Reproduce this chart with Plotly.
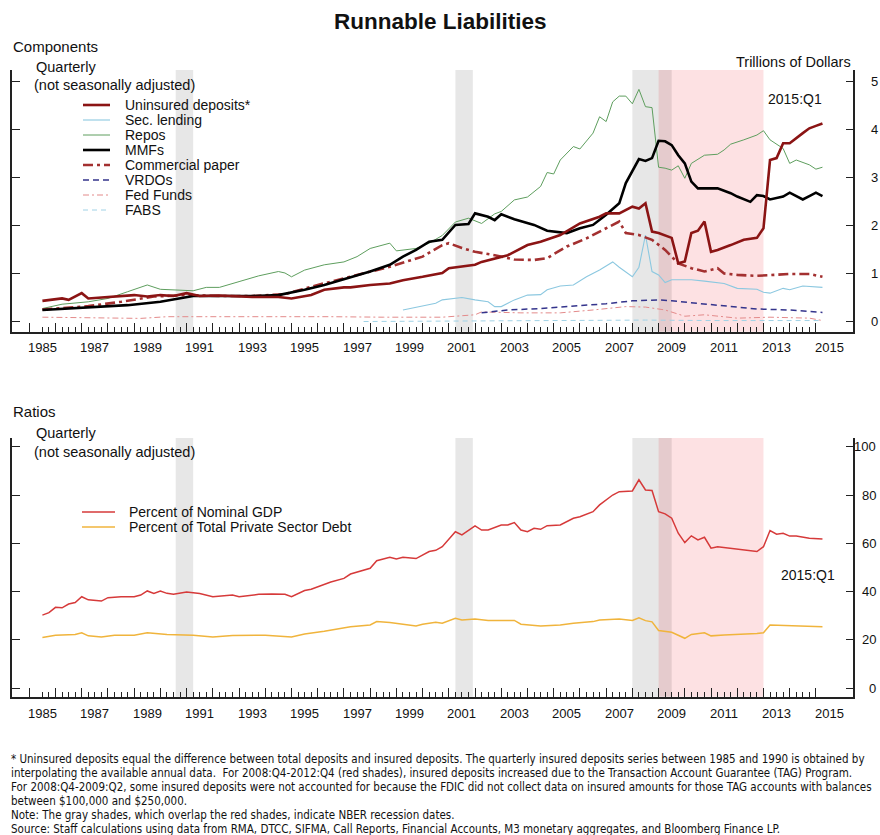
import plotly.graph_objects as go

W, H = 880, 835


def qtime(label):
    """Quarter label such as '2008Q4' -> decimal year at the end of that quarter."""
    year, q = label.split("Q")
    return int(year) + int(q) / 4.0


def mtime(label):
    """Month label such as '2007-12' -> decimal year at the end of that month."""
    year, m = label.split("-")
    return int(year) + int(m) / 12.0


# ---------------- Components, trillions of dollars ----------------
ud_q = ["1985Q2", "1986Q1", "1986Q2", "1986Q4", "1987Q1", "1987Q4", "1988Q2", "1988Q4", "1989Q2", "1989Q4",
        "1990Q2", "1990Q4", "1991Q2", "1992Q1", "1993Q2", "1994Q2", "1994Q4", "1995Q3", "1996Q1", "1996Q4",
        "1997Q1", "1997Q4", "1998Q3", "1999Q1", "1999Q4", "2000Q2", "2000Q3", "2000Q4", "2001Q2", "2001Q4",
        "2002Q1", "2003Q1", "2003Q4", "2004Q2", "2005Q1", "2005Q4", "2006Q3", "2006Q4", "2007Q2", "2007Q4",
        "2008Q1", "2008Q2", "2008Q3", "2008Q4", "2009Q2", "2009Q3", "2009Q4", "2010Q1", "2010Q2", "2010Q3",
        "2010Q4", "2011Q1", "2011Q3", "2012Q1", "2012Q3", "2012Q4", "2013Q1", "2013Q2", "2013Q3", "2013Q4",
        "2014Q2", "2014Q3", "2014Q4", "2015Q1"]
uninsured_deposits = [0.44, 0.49, 0.46, 0.60, 0.49, 0.52, 0.54, 0.56, 0.53, 0.56,
                      0.54, 0.60, 0.54, 0.55, 0.52, 0.52, 0.49, 0.56, 0.67, 0.72,
                      0.72, 0.77, 0.80, 0.87, 0.94, 0.99, 1.02, 1.12, 1.15, 1.19,
                      1.25, 1.39, 1.60, 1.67, 1.81, 2.05, 2.19, 2.26, 2.26, 2.40,
                      2.36, 2.47, 1.88, 1.85, 1.75, 1.22, 1.26, 1.85, 1.90, 2.09,
                      1.46, 1.50, 1.60, 1.71, 1.75, 1.95, 3.37, 3.41, 3.72, 3.72,
                      3.93, 4.03, 4.08, 4.13]

mmf_q = ["1985Q2", "1986Q2", "1987Q3", "1988Q3", "1989Q4", "1990Q3", "1991Q1", "1992Q1", "1993Q2", "1994Q2",
         "1995Q2", "1996Q1", "1996Q4", "1997Q4", "1998Q3", "1999Q1", "1999Q3", "2000Q1", "2000Q3", "2001Q1",
         "2001Q3", "2001Q4", "2002Q2", "2002Q3", "2002Q4", "2003Q2", "2004Q1", "2004Q3", "2005Q2", "2005Q4",
         "2006Q2", "2006Q4", "2007Q2", "2007Q3", "2008Q1", "2008Q2", "2008Q3", "2008Q4", "2009Q1", "2009Q2",
         "2009Q3", "2009Q4", "2010Q1", "2010Q2", "2011Q1", "2011Q3", "2011Q4", "2012Q2", "2012Q3", "2012Q4",
         "2013Q1", "2013Q3", "2013Q4", "2014Q2", "2014Q3", "2014Q4", "2015Q1"]
mmfs = [0.25, 0.28, 0.32, 0.35, 0.42, 0.49, 0.54, 0.54, 0.54, 0.56,
        0.67, 0.77, 0.89, 1.05, 1.19, 1.36, 1.50, 1.67, 1.71, 2.02,
        2.04, 2.26, 2.19, 2.12, 2.24, 2.14, 2.02, 1.90, 1.85, 1.95,
        2.02, 2.23, 2.47, 2.89, 3.39, 3.35, 3.41, 3.77, 3.76, 3.68,
        3.47, 3.30, 2.92, 2.78, 2.78, 2.68, 2.61, 2.50, 2.64, 2.62,
        2.55, 2.61, 2.69, 2.55, 2.62, 2.69, 2.62]

repo_q = ["1985Q2", "1986Q1", "1987Q1", "1987Q4", "1988Q3", "1989Q2", "1989Q4", "1990Q3", "1991Q1", "1991Q3",
          "1992Q1", "1992Q4", "1993Q3", "1994Q2", "1994Q3", "1994Q4", "1995Q2", "1996Q1", "1996Q4", "1997Q2",
          "1997Q4", "1998Q3", "1998Q4", "1999Q3", "2000Q1", "2000Q3", "2001Q1", "2001Q3", "2002Q1", "2002Q3",
          "2002Q4", "2003Q2", "2003Q4", "2004Q2", "2004Q3", "2004Q4", "2005Q1", "2005Q3", "2005Q4", "2006Q2",
          "2006Q3", "2006Q4", "2007Q1", "2007Q2", "2007Q3", "2007Q4", "2008Q1", "2008Q2", "2008Q3", "2008Q4",
          "2009Q1", "2009Q2", "2009Q3", "2009Q4", "2010Q1", "2010Q3", "2011Q1", "2011Q2", "2011Q3", "2012Q1",
          "2012Q3", "2012Q4", "2013Q1", "2013Q3", "2013Q4", "2014Q1", "2014Q3", "2014Q4", "2015Q1"]
repos = [0.28, 0.37, 0.42, 0.49, 0.63, 0.77, 0.68, 0.67, 0.65, 0.72,
         0.72, 0.84, 0.96, 1.05, 1.02, 0.94, 1.08, 1.19, 1.25, 1.36,
         1.53, 1.64, 1.48, 1.53, 1.64, 1.80, 2.08, 2.16, 2.05, 2.25,
         2.30, 2.54, 2.60, 2.82, 3.11, 3.08, 3.37, 3.65, 3.60, 3.93,
         4.27, 4.17, 4.58, 4.70, 4.70, 4.54, 4.84, 4.48, 4.46, 3.22,
         3.20, 3.16, 3.25, 2.99, 3.30, 3.47, 3.49, 3.58, 3.70, 3.79,
         3.89, 3.98, 3.79, 3.61, 3.30, 3.37, 3.27, 3.18, 3.22]

cp_q = ["1985Q2", "1987Q1", "1988Q2", "1989Q3", "1990Q4", "1992Q1", "1993Q2", "1994Q3", "1995Q4", "1997Q1",
        "1998Q3", "1999Q4", "2000Q3", "2000Q4", "2001Q2", "2001Q4", "2002Q2", "2002Q3", "2003Q2", "2004Q1",
        "2004Q3", "2005Q2", "2006Q1", "2006Q4", "2007Q2", "2007Q3", "2008Q1", "2008Q3", "2009Q1", "2009Q3",
        "2010Q1", "2010Q3", "2011Q1", "2011Q2", "2011Q4", "2012Q3", "2013Q1", "2013Q4", "2014Q3", "2015Q1"]
commercial_paper = [0.26, 0.33, 0.42, 0.53, 0.56, 0.54, 0.54, 0.58, 0.77, 0.94,
                    1.15, 1.36, 1.60, 1.64, 1.54, 1.46, 1.42, 1.39, 1.30, 1.29,
                    1.33, 1.57, 1.74, 1.95, 2.09, 1.85, 1.81, 1.71, 1.50, 1.22,
                    1.12, 1.05, 1.12, 1.01, 0.98, 0.96, 0.98, 1.00, 1.00, 0.94]

sl_q = ["1999Q1", "2000Q2", "2000Q3", "2001Q2", "2001Q4", "2002Q2", "2002Q3", "2002Q4", "2003Q2", "2003Q4",
        "2004Q2", "2004Q3", "2005Q1", "2005Q3", "2006Q1", "2006Q3", "2007Q1", "2007Q2", "2007Q4", "2008Q1",
        "2008Q2", "2008Q3", "2008Q4", "2009Q1", "2009Q2", "2010Q1", "2010Q3", "2011Q2", "2011Q4", "2012Q3",
        "2012Q4", "2013Q1", "2013Q3", "2013Q4", "2014Q2", "2015Q1"]
sec_lending = [0.25, 0.39, 0.46, 0.51, 0.46, 0.42, 0.32, 0.32, 0.46, 0.56,
               0.57, 0.67, 0.75, 0.77, 0.94, 1.08, 1.25, 1.14, 0.94, 1.14,
               1.81, 1.05, 0.98, 0.82, 0.88, 0.88, 0.85, 0.80, 0.70, 0.68,
               0.62, 0.60, 0.70, 0.67, 0.75, 0.72]

vrdo_q = ["2002Q1", "2003Q1", "2004Q2", "2005Q3", "2006Q4", "2007Q4", "2008Q4", "2009Q2", "2010Q3", "2011Q3",
          "2012Q3", "2013Q4", "2015Q1"]
vrdos = [0.19, 0.25, 0.28, 0.33, 0.38, 0.44, 0.46, 0.44, 0.38, 0.32,
         0.27, 0.25, 0.20]

ff_q = ["1985Q2", "1987Q3", "1989Q1", "1990Q1", "1992Q3", "1995Q1", "1996Q2", "1998Q2", "2000Q2", "2000Q3",
        "2001Q4", "2002Q1", "2003Q3", "2005Q1", "2006Q2", "2007Q3", "2008Q2", "2009Q1", "2009Q4", "2010Q3",
        "2011Q4", "2013Q1", "2014Q3", "2015Q1"]
fed_funds = [0.10, 0.08, 0.075, 0.11, 0.11, 0.12, 0.11, 0.10, 0.11, 0.10,
             0.15, 0.21, 0.19, 0.19, 0.25, 0.32, 0.31, 0.25, 0.12, 0.15,
             0.08, 0.10, 0.08, 0.03]

fabs_q = ["1997Q3", "2000Q4", "2005Q4", "2008Q2", "2010Q4", "2015Q1"]
fabs = [0.01, 0.02, 0.03, 0.04, 0.03, 0.03]

# ---------------- Ratios, percent ----------------
gdp_q = ["1985Q2", "1985Q3", "1985Q4", "1986Q1", "1986Q2", "1986Q3", "1986Q4", "1987Q1", "1987Q3", "1987Q4",
         "1988Q2", "1988Q4", "1989Q1", "1989Q2", "1989Q3", "1989Q4", "1990Q1", "1990Q2", "1990Q4", "1991Q2",
         "1991Q4", "1992Q3", "1992Q4", "1993Q3", "1994Q1", "1994Q3", "1994Q4", "1995Q2", "1995Q3", "1996Q1",
         "1996Q2", "1996Q4", "1997Q1", "1997Q4", "1998Q1", "1998Q3", "1998Q4", "1999Q1", "1999Q3", "2000Q1",
         "2000Q2", "2000Q3", "2001Q1", "2001Q2", "2001Q4", "2002Q1", "2002Q2", "2002Q4", "2003Q1", "2003Q2",
         "2003Q3", "2003Q4", "2004Q1", "2004Q2", "2004Q3", "2005Q1", "2005Q2", "2005Q3", "2005Q4", "2006Q2",
         "2006Q3", "2006Q4", "2007Q1", "2007Q2", "2007Q4", "2008Q1", "2008Q2", "2008Q3", "2008Q4", "2009Q1",
         "2009Q2", "2009Q3", "2009Q4", "2010Q1", "2010Q2", "2010Q3", "2010Q4", "2011Q1", "2011Q3", "2012Q1",
         "2012Q3", "2012Q4", "2013Q1", "2013Q2", "2013Q3", "2013Q4", "2014Q1", "2014Q3", "2015Q1"]
pct_gdp = [30.3, 31.3, 33.5, 33.3, 34.9, 35.5, 37.9, 36.6, 36.1, 37.5,
           37.9, 37.9, 38.6, 40.3, 39.3, 40.3, 39.3, 38.9, 39.9, 39.2,
           37.9, 38.6, 37.9, 38.9, 39.0, 38.9, 37.9, 40.5, 41.0, 43.2,
           44.0, 45.5, 47.3, 49.7, 52.8, 54.2, 53.5, 54.2, 53.7, 56.6,
           57.1, 58.6, 64.8, 63.5, 67.2, 65.5, 65.5, 67.6, 67.6, 68.6,
           65.5, 64.8, 66.2, 65.8, 67.3, 67.6, 69.0, 70.4, 71.0, 73.1,
           75.9, 78.0, 80.0, 81.4, 81.7, 86.3, 82.1, 81.9, 73.1, 72.2,
           70.4, 64.2, 60.3, 63.1, 61.4, 62.5, 58.0, 58.6, 58.0, 57.3,
           56.6, 58.6, 65.3, 63.8, 64.2, 63.0, 63.0, 62.1, 61.8]

debt_q = ["1985Q2", "1985Q4", "1986Q3", "1986Q4", "1987Q1", "1987Q3", "1988Q1", "1988Q4", "1989Q2", "1990Q1",
          "1991Q1", "1991Q4", "1992Q3", "1993Q4", "1994Q4", "1995Q2", "1996Q1", "1996Q3", "1997Q1", "1997Q4",
          "1998Q1", "1998Q3", "1999Q1", "1999Q3", "1999Q4", "2000Q2", "2000Q3", "2001Q1", "2001Q2", "2001Q4",
          "2002Q2", "2003Q2", "2003Q3", "2004Q2", "2005Q1", "2005Q3", "2006Q2", "2006Q3", "2007Q2", "2007Q4",
          "2008Q1", "2008Q2", "2008Q3", "2008Q4", "2009Q2", "2009Q4", "2010Q1", "2010Q3", "2010Q4", "2011Q2",
          "2012Q3", "2012Q4", "2013Q1", "2013Q4", "2015Q1"]
pct_private_debt = [21.0, 22.0, 22.3, 23.0, 21.7, 21.2, 22.0, 22.0, 23.0, 22.3,
                    22.0, 21.2, 21.9, 22.0, 21.2, 22.5, 23.6, 24.4, 25.5, 26.2,
                    27.6, 27.2, 26.5, 25.8, 26.5, 27.3, 26.9, 29.0, 28.3, 28.7,
                    28.1, 28.1, 26.5, 25.8, 26.2, 26.9, 27.6, 28.3, 28.7, 28.1,
                    29.2, 28.0, 27.5, 23.9, 23.2, 20.7, 22.3, 23.0, 21.7, 22.1,
                    22.7, 23.0, 26.2, 25.9, 25.5]

# Shaded periods
recessions = [("1990-07", "1991-03"), ("2001-03", "2001-11"), ("2007-12", "2009-06")]
tag_program = ("2008Q4", "2012Q4")

year_labels = list(range(1985, 2016, 2))
top_ticks = [0, 1, 2, 3, 4, 5]
bottom_ticks = [0, 20, 40, 60, 80, 100]

FONT = "Liberation Sans, Arial, Helvetica, sans-serif"
NARROW = "Liberation Sans Narrow, Arial Narrow, DejaVu Sans Condensed, Liberation Sans, sans-serif"


def px(x):
    return x / W


def py(y):
    return 1 - y / H


# series: quarters, values, line style
components = {
    "Uninsured deposits*": (ud_q, uninsured_deposits, dict(color="#8B1414", width=2.6)),
    "Sec. lending": (sl_q, sec_lending, dict(color="#8CC8E0", width=1.1)),
    "Repos": (repo_q, repos, dict(color="#5E9E5E", width=1.0)),
    "MMFs": (mmf_q, mmfs, dict(color="#000000", width=2.6)),
    "Commercial paper": (cp_q, commercial_paper, dict(color="#A33030", width=2.6, dash="10px,4px,3px,4px")),
    "VRDOs": (vrdo_q, vrdos, dict(color="#34348C", width=1.5, dash="6px,4px")),
    "Fed Funds": (ff_q, fed_funds, dict(color="#E38A8A", width=1.0, dash="6px,3px,2px,3px")),
    "FABS": (fabs_q, fabs, dict(color="#A0D2E6", width=1.0, dash="5px,4px")),
}
# back-to-front drawing order
draw_order = ["FABS", "Fed Funds", "VRDOs", "Sec. lending", "Repos", "Commercial paper", "MMFs",
              "Uninsured deposits*"]

ratios = {
    "Percent of Nominal GDP": (gdp_q, pct_gdp, dict(color="#D63A3A", width=1.5)),
    "Percent of Total Private Sector Debt": (debt_q, pct_private_debt, dict(color="#F0B43C", width=1.5)),
}

fig = go.Figure()

for name in draw_order:
    qs, vals, style = components[name]
    fig.add_trace(go.Scatter(x=[qtime(q) for q in qs], y=vals, mode="lines", name=name,
                             line=style, xaxis="x", yaxis="y", showlegend=False))

for name, (qs, vals, style) in ratios.items():
    fig.add_trace(go.Scatter(x=[qtime(q) for q in qs], y=vals, mode="lines", name=name,
                             line=style, xaxis="x2", yaxis="y2", showlegend=False))

# ---- shading: TAG program (pink) under NBER recessions (translucent gray) ----
shapes = []
for xa, ya in (("x", "y"), ("x2", "y2")):
    shapes.append(dict(type="rect", xref=xa, yref=ya + " domain", x0=qtime(tag_program[0]),
                       x1=qtime(tag_program[1]), y0=0, y1=1, fillcolor="#FDE1E3",
                       line=dict(width=0), layer="below"))
    for start, end in recessions:
        shapes.append(dict(type="rect", xref=xa, yref=ya + " domain", x0=mtime(start), x1=mtime(end),
                           y0=0, y1=1, fillcolor="rgba(0,0,0,0.095)", line=dict(width=0), layer="below"))

annotations = []


def text(s, x, y, size=14, anchor="left", family=FONT, bold=False, xref="paper", yref="paper"):
    annotations.append(dict(text=("<b>%s</b>" % s) if bold else s, x=x, y=y, xref=xref, yref=yref,
                            xanchor=anchor, yanchor="middle", showarrow=False,
                            font=dict(family=family, size=size, color="#111111")))


# ---- legends drawn as line samples plus labels ----
legend_top_rows = [105, 120, 135, 150, 165, 180, 195, 210]
for name, row in zip(components.keys(), legend_top_rows):
    style = components[name][2]
    shapes.append(dict(type="line", xref="paper", yref="paper", x0=px(83), x1=px(110),
                       y0=py(row), y1=py(row), line=style))
    text(name, px(123), py(row), size=14)

legend_bottom_rows = [512, 527]
for name, row in zip(ratios.keys(), legend_bottom_rows):
    style = ratios[name][2]
    shapes.append(dict(type="line", xref="paper", yref="paper", x0=px(82), x1=px(115),
                       y0=py(row), y1=py(row), line=style))
    text(name, px(127), py(row), size=14)

# ---- titles and notes ----
text("Runnable Liabilities", 0.5, py(21), size=22.5, anchor="center", bold=True)
text("Components", px(11), py(46), size=15)
text("Quarterly", px(34), py(67), size=14.5)
text("(not seasonally adjusted)", px(32), py(85), size=14.5)
text("Trillions of Dollars", px(853), py(62), size=14.5, anchor="right")
text("2015:Q1", px(824), py(99), size=14, anchor="right")

text("Ratios", px(11), py(412), size=15)
text("Quarterly", px(34), py(433), size=14.5)
text("(not seasonally adjusted)", px(32), py(452), size=14.5)
text("2015:Q1", px(837), py(575), size=14, anchor="right")

for yr in year_labels:
    text(str(yr), yr + 0.5, py(347), size=13, anchor="center", xref="x")
    text(str(yr), yr + 0.5, py(713), size=13, anchor="center", xref="x2")
for v in top_ticks:
    text(str(v), px(874), v, size=13, anchor="center", yref="y")
for v in bottom_ticks:
    text(str(v), px(878), v, size=13, anchor="right", yref="y2")

notes = [
    "* Uninsured deposits equal the difference between total deposits and insured deposits. The quarterly insured deposits series between 1985 and 1990 is obtained by",
    "interpolating the available annual data.  For 2008:Q4-2012:Q4 (red shades), insured deposits increased due to the Transaction Account Guarantee (TAG) Program.",
    "For 2008:Q4-2009:Q2, some insured deposits were not accounted for because the FDIC did not collect data on insured amounts for those TAG accounts with balances",
    "between $100,000 and $250,000.",
    "Note: The gray shades, which overlap the red shades, indicate NBER recession dates.",
    "Source: Staff calculations using data from RMA, DTCC, SIFMA, Call Reports, Financial Accounts, M3 monetary aggregates, and Bloomberg Finance LP.",
]
for i, line in enumerate(notes):
    text(line, px(9), py(759 + 14 * i), size=11.5, family=NARROW)

# ---- axes ----
x_range = [1984.352, 2016.426]
major_years = list(range(1985, 2016))
minor_quarters = [y + k / 4 for y in range(1985, 2015) for k in (1, 2, 3) if y + k / 4 >= 1985.5]

xaxis_common = dict(range=x_range, domain=[px(12.3), px(853.3)], showline=True, linecolor="#222222",
                    linewidth=1.5, ticks="inside", tickmode="array", tickvals=major_years, ticklen=9,
                    tickwidth=1.2, tickcolor="#222222", showticklabels=False, showgrid=False,
                    zeroline=False, automargin=False,
                    minor=dict(tickmode="array", tickvals=minor_quarters, ticks="inside", ticklen=5,
                               tickwidth=1, tickcolor="#222222", showgrid=False))
yaxis_common = dict(side="right", showline=True, linecolor="#222222", linewidth=1.5, mirror="ticks",
                    ticks="inside", ticklen=8, tickwidth=1.2, tickcolor="#222222", showticklabels=False,
                    showgrid=False, zeroline=False, automargin=False, tickmode="array")

fig.update_layout(
    width=W, height=H,
    margin=dict(l=0, r=0, t=0, b=0),
    paper_bgcolor="white", plot_bgcolor="white",
    showlegend=False,
    xaxis=dict(xaxis_common, anchor="y"),
    yaxis=dict(yaxis_common, anchor="x", domain=[py(331.7), py(70)], range=[-0.202, 5.243],
               tickvals=top_ticks),
    xaxis2=dict(xaxis_common, anchor="y2"),
    yaxis2=dict(yaxis_common, anchor="x2", domain=[py(696.7), py(438)], range=[-3.48, 103.6],
                tickvals=bottom_ticks),
    shapes=shapes,
    annotations=annotations,
    font=dict(family=FONT, color="#111111"),
)

fig.write_html("out.html")
